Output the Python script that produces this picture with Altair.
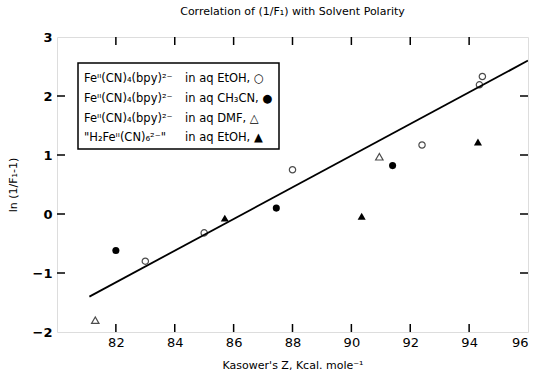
import altair as alt
import pandas as pd

# ---- data ----
etoh_x = [83.0, 85.0, 88.0, 92.4, 94.35, 94.45]
etoh_y = [-0.8, -0.32, 0.75, 1.17, 2.19, 2.33]
ch3cn_x = [82.0, 87.45, 91.4]
ch3cn_y = [-0.62, 0.1, 0.82]
dmf_x = [81.3, 90.95]
dmf_y = [-1.8, 0.97]
h2fe_x = [85.7, 90.35, 94.3]
h2fe_y = [-0.07, -0.04, 1.22]
fit_x = [81.1, 96.0]
fit_y = [-1.4, 2.6]

x_ticks = [82, 84, 86, 88, 90, 92, 94]
y_ticks = [-1, 0, 1, 2]
x_labels = [82, 84, 86, 88, 90, 92, 94, 96]
y_labels = [-2, -1, 0, 1, 2, 3]

legend_formula = ["Feᴵᴵ(CN)₄(bpy)²⁻", "Feᴵᴵ(CN)₄(bpy)²⁻", "Feᴵᴵ(CN)₄(bpy)²⁻", "\"H₂Feᴵᴵ(CN)₆²⁻\""]
legend_solvent = ["in aq EtOH, ○", "in aq CH₃CN, ●", "in aq DMF, △", "in aq EtOH, ▲"]

W, H = 471, 295
FONT = "DejaVu Sans"
ROW_Y = [42, 62, 82, 101]

xs = alt.Scale(domain=[80, 96], nice=False)
ys = alt.Scale(domain=[-2, 3], nice=False)

def pts(xv, yv):
    return pd.DataFrame({"x": xv, "y": yv})

xenc = alt.X("x:Q", scale=xs, axis=alt.Axis(values=x_labels, format="d", ticks=False, domain=False, grid=False,
            labelFont=FONT, labelFontSize=13, labelColor="black", labelPadding=4,
            title="Kasower's Z,  Kcal. mole⁻¹", titleFont=FONT, titleFontSize=11,
            titleFontWeight="normal", titleColor="black", titlePadding=10))
yenc = alt.Y("y:Q", scale=ys, axis=alt.Axis(values=y_labels, format="d", ticks=False, domain=False, grid=False,
            labelFont=FONT, labelFontSize=13, labelFontWeight="bold", labelColor="black", labelPadding=5,
            title="ln (1/F₁-1)", titleFont=FONT, titleFontSize=11,
            titleFontWeight="normal", titleColor="black", titlePadding=14))

fit = alt.Chart(pts(fit_x, fit_y)).mark_line(color="black", strokeWidth=1.8, clip=True).encode(x=xenc, y=yenc)

px = alt.X("x:Q", scale=xs)
py = alt.Y("y:Q", scale=ys)
etoh = alt.Chart(pts(etoh_x, etoh_y)).mark_point(shape="circle", filled=False, color="black",
        size=40, strokeWidth=1.2).encode(x=px, y=py)
ch3cn = alt.Chart(pts(ch3cn_x, ch3cn_y)).mark_point(shape="circle", filled=True, color="black",
        size=50, opacity=1).encode(x=px, y=py)
dmf = alt.Chart(pts(dmf_x, dmf_y)).mark_point(shape="triangle-up", filled=False, color="black",
        size=55, strokeWidth=1.2).encode(x=px, y=py)
h2fe = alt.Chart(pts(h2fe_x, h2fe_y)).mark_point(shape="triangle-up", filled=True, color="black",
        size=65, opacity=1).encode(x=px, y=py)

# inward ticks
xt = pd.DataFrame({"x": x_ticks})
yt = pd.DataFrame({"y": y_ticks})
tick_bottom = alt.Chart(xt).mark_rule(color="black", strokeWidth=1.5).encode(
    x=px, y=alt.value(H), y2=alt.value(H - 8))
tick_top = alt.Chart(xt).mark_rule(color="black", strokeWidth=1.5).encode(
    x=px, y=alt.value(0), y2=alt.value(8))
tick_left = alt.Chart(yt).mark_rule(color="black", strokeWidth=1.5).encode(
    y=py, x=alt.value(0), x2=alt.value(8))
tick_right = alt.Chart(yt).mark_rule(color="black", strokeWidth=1.5).encode(
    y=py, x=alt.value(W), x2=alt.value(W - 8))

# legend box
box = alt.Chart(pd.DataFrame({"a": [0]})).mark_rect(fill="white", stroke="black", strokeWidth=1.5).encode(
    x=alt.value(21), x2=alt.value(222), y=alt.value(26), y2=alt.value(112))

legend_layers = []
for i in range(len(legend_formula)):
    row = pd.DataFrame({"f": [legend_formula[i]], "s": [legend_solvent[i]]})
    legend_layers.append(alt.Chart(row).mark_text(align="left", baseline="middle", font=FONT,
        fontSize=11.5, color="black").encode(x=alt.value(27), y=alt.value(ROW_Y[i]), text="f:N"))
    legend_layers.append(alt.Chart(row).mark_text(align="left", baseline="middle", font=FONT,
        fontSize=11.5, color="black").encode(x=alt.value(128), y=alt.value(ROW_Y[i]), text="s:N"))

chart = alt.layer(
    fit, etoh, ch3cn, dmf, h2fe, tick_bottom, tick_top, tick_left, tick_right, box, *legend_layers
).properties(
    width=W, height=H,
    title=alt.TitleParams("Correlation of (1/F₁) with Solvent Polarity", font=FONT, fontSize=11,
                          fontWeight="normal", color="black", offset=14, anchor="middle"),
    autosize=alt.AutoSizeParams(type="none"),
    padding={"left": 57, "top": 37, "right": 5, "bottom": 40},
).configure_view(stroke="black", strokeWidth=2).configure(background="white")

chart.save("out.html", embed_options={"renderer": "svg", "actions": False})
